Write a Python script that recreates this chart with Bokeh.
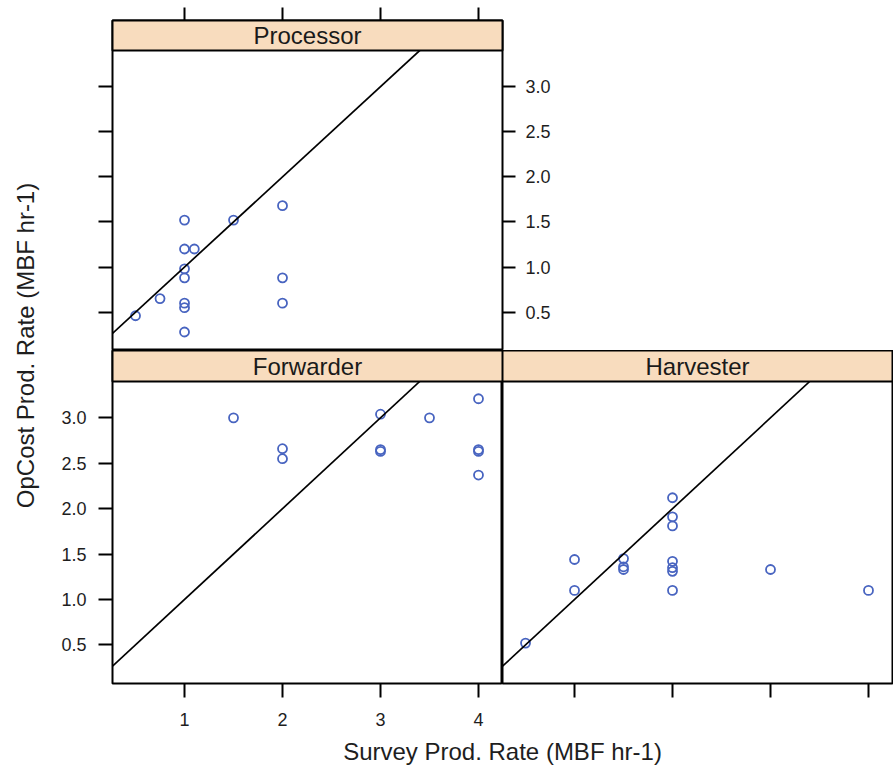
import math
from bokeh.plotting import figure
from bokeh.layouts import row, column, Spacer
from bokeh.models import Range1d, FixedTicker, LinearAxis, Slope, ColumnDataSource
from bokeh.core.properties import value
from bokeh.embed import file_html
from bokeh.resources import INLINE

# ---------------- data ----------------
panel_names = ["Processor", "Forwarder", "Harvester"]

processor_survey = [0.5, 0.75, 1.0, 1.0, 1.1, 1.0, 1.0, 1.0, 1.0, 1.0, 1.5, 2.0, 2.0, 2.0]
processor_opcost = [0.46, 0.65, 1.52, 1.20, 1.20, 0.98, 0.88, 0.60, 0.55, 0.28, 1.52, 1.68, 0.88, 0.60]

forwarder_survey = [1.5, 2.0, 2.0, 3.0, 3.0, 3.0, 3.5, 4.0, 4.0, 4.0, 4.0]
forwarder_opcost = [3.00, 2.66, 2.55, 3.04, 2.65, 2.63, 3.00, 3.21, 2.65, 2.63, 2.37]

harvester_survey = [0.5, 1.0, 1.0, 1.5, 1.5, 1.5, 2.0, 2.0, 2.0, 2.0, 2.0, 2.0, 2.0, 3.0, 4.0]
harvester_opcost = [0.52, 1.44, 1.10, 1.45, 1.36, 1.33, 2.12, 1.91, 1.81, 1.42, 1.35, 1.31, 1.10, 1.33, 1.10]

x_ticks = [1, 2, 3, 4]
x_tick_labels = ["1", "2", "3", "4"]
y_ticks = [0.5, 1.0, 1.5, 2.0, 2.5, 3.0]
y_tick_labels = ["0.5", "1.0", "1.5", "2.0", "2.5", "3.0"]

x_title = "Survey Prod. Rate (MBF hr-1)"
y_title = "OpCost Prod. Rate (MBF hr-1)"

# ---------------- style / layout ----------------
FONT = "Liberation Sans"
STRIP_COLOR = "#F8DCBE"
POINT_COLOR = "#4864C0"
TEXT_COLOR = "#1e1e1e"
XLO, XHI = 0.265, 4.245
YLO, YHI = 0.075, 3.40
FRAME_W = 390


def make_axis(ticks, labels, show_labels, standoff, tick_out):
    ax = LinearAxis(ticker=FixedTicker(ticks=ticks),
                    major_label_overrides={t: l for t, l in zip(ticks, labels)},
                    axis_line_color=None,
                    major_tick_in=0, major_tick_out=tick_out,
                    major_tick_line_color="black", major_tick_line_width=2,
                    minor_tick_line_color=None)
    if show_labels:
        ax.major_label_text_font = FONT
        ax.major_label_text_font_size = "18px"
        ax.major_label_text_color = TEXT_COLOR
        ax.major_label_standoff = standoff
    else:
        ax.major_label_text_font_size = "1px"
        ax.major_label_text_alpha = 0
        ax.major_label_standoff = 0
    return ax


def make_panel(name, xs, ys, plot_px, strip_px, left, right, top, bottom):
    ytop = YHI + strip_px * (YHI - YLO) / plot_px
    p = figure(frame_width=FRAME_W, frame_height=plot_px + strip_px,
               x_range=Range1d(XLO, XHI), y_range=Range1d(YLO, ytop),
               output_backend="svg", toolbar_location=None,
               x_axis_location=None, y_axis_location=None,
               min_border_left=left, min_border_right=right,
               min_border_top=top, min_border_bottom=bottom)
    p.grid.visible = False
    p.outline_line_color = "black"
    p.outline_line_width = 2
    p.background_fill_color = "white"
    p.border_fill_color = "white"

    p.add_layout(Slope(gradient=1, y_intercept=0, line_color="black", line_width=1.7))
    src = ColumnDataSource(dict(x=xs, y=ys))
    p.scatter("x", "y", source=src, marker="circle", size=9, fill_color=None,
              line_color=POINT_COLOR, line_width=1.8)

    p.quad(left=[XLO], right=[XHI], bottom=[YHI], top=[ytop], fill_color=STRIP_COLOR,
           line_color="black", line_width=2, level="overlay")
    p.text(x=[(XLO + XHI) / 2], y=[(YHI + ytop) / 2], text=[name], text_align="center",
           text_baseline="middle", text_font=value(FONT), text_font_size="24px",
           text_color="#1a1a1a", level="overlay")
    return p


proc = make_panel(panel_names[0], processor_survey, processor_opcost, 300, 30,
                  72, 70, 20, 0)
proc.add_layout(make_axis(x_ticks, x_tick_labels, False, 0, 13), "above")
proc.add_layout(make_axis(y_ticks, y_tick_labels, False, 0, 14), "left")
proc.add_layout(make_axis(y_ticks, y_tick_labels, True, 10, 13), "right")

fwd = make_panel(panel_names[1], forwarder_survey, forwarder_opcost, 302, 31,
                 72, 0, 0, 55)
fwd.add_layout(make_axis(y_ticks, y_tick_labels, True, 12, 14), "left")
fwd.add_layout(make_axis(x_ticks, x_tick_labels, True, 15, 14), "below")

harv = make_panel(panel_names[2], harvester_survey, harvester_opcost, 302, 31,
                  0, 1, 0, 55)
harv.add_layout(make_axis(x_ticks, x_tick_labels, False, 0, 14), "below")


def label_fig(w, h):
    f = figure(width=w, height=h, x_range=Range1d(0, 1), y_range=Range1d(0, 1),
               output_backend="svg", toolbar_location=None,
               x_axis_location=None, y_axis_location=None, min_border=0)
    f.grid.visible = False
    f.outline_line_color = None
    return f


ylab = label_fig(40, 670)
ylab.text(x=[0.62], y=[0.5], text=[y_title], angle=math.pi / 2, text_align="center",
          text_baseline="middle", text_font=value(FONT), text_font_size="24px",
          text_color=TEXT_COLOR)

xlab = label_fig(780, 32)
xlab.text(x=[0.5], y=[0.6], text=[x_title], text_align="center",
          text_baseline="middle", text_font=value(FONT), text_font_size="24px",
          text_color=TEXT_COLOR)

left_col = column(Spacer(width=40, height=10), ylab, Spacer(width=40, height=90))
right_col = column(proc, row(fwd, harv), row(Spacer(width=72, height=32), xlab))
layout = row(left_col, right_col)

open("out.html", "w").write(file_html(layout, INLINE))
